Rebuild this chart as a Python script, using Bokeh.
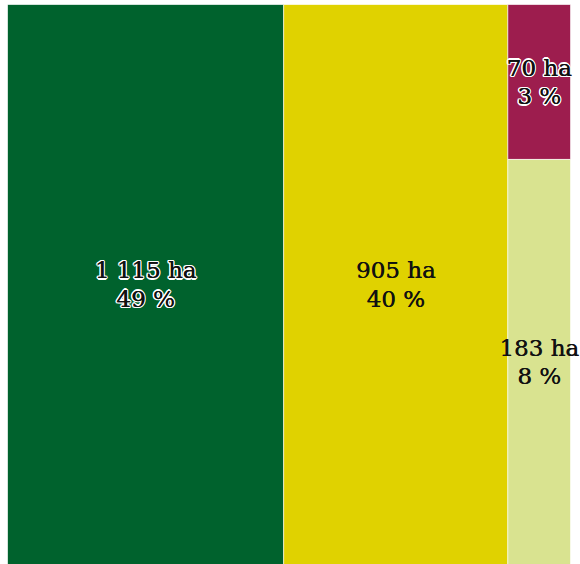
from bokeh.plotting import figure
from bokeh.models import Range1d, ColumnDataSource
from bokeh.core.properties import value
from bokeh.embed import file_html
from bokeh.resources import INLINE

categories = ["A", "B", "C", "D"]
hectares = [1115, 905, 70, 183]
area_labels = ["1 115 ha", "905 ha", "70 ha", "183 ha"]
pct_labels = ["49 %", "40 %", "3 %", "8 %"]
colors = ["#00622d", "#e0d200", "#9d1d4e", "#d9e390"]
halo = [True, False, True, False]

total = sum(hectares)

# slice layout: first two as full-height columns, last two stacked in the final column
left, right, top, bottom = [], [], [], []
x = 0.0
for v in hectares[:2]:
    left.append(x); right.append(x + v); top.append(1.0); bottom.append(0.0)
    x += v
rest = sum(hectares[2:])
ytop = 1.0
for v in hectares[2:]:
    h = v / rest
    left.append(x); right.append(total); top.append(ytop); bottom.append(ytop - h)
    ytop -= h

cx = [(l + r) / 2 for l, r in zip(left, right)]
cy = [(t + b) / 2 for t, b in zip(top, bottom)]
labels = [a + "\n" + b for a, b in zip(area_labels, pct_labels)]

src = ColumnDataSource(dict(left=left, right=right, top=top, bottom=bottom,
                            color=colors))

W, H = 580, 564
ML, MT = 7, 4
treemap_w = 563
frame_w = W - ML
p = figure(width=W, height=H, output_backend="svg", toolbar_location=None,
           x_range=Range1d(0, total * frame_w / treemap_w), y_range=Range1d(0, 1),
           min_border_left=ML, min_border_top=MT, min_border_right=0,
           min_border_bottom=0)
p.axis.visible = False
p.grid.visible = False
p.outline_line_color = None
p.background_fill_color = "white"

p.quad(left="left", right="right", top="top", bottom="bottom", source=src,
       fill_color="color", line_color="white", line_width=0.6)

font = value("DejaVu Serif")
fs = "23px"
lh = 1.1
yo = 0
offsets = [(-1.5, 0), (1.5, 0), (0, -1.5), (0, 1.5),
           (-1.1, -1.1), (1.1, -1.1), (-1.1, 1.1), (1.1, 1.1)]
for i in range(len(categories)):
    if halo[i]:
        for dx, dy in offsets:
            p.text(x=[cx[i]], y=[cy[i]], text=[labels[i]], text_align="center",
                   text_baseline="middle", text_font=font, text_font_size=fs,
                   text_color="white", text_line_height=lh,
                   x_offset=dx, y_offset=dy + yo)
    # slight double-draw for a medium weight
    for dx in (0, 0.4):
        p.text(x=[cx[i]], y=[cy[i]], text=[labels[i]], text_align="center",
               text_baseline="middle", text_font=font, text_font_size=fs,
               text_color="#111111", text_line_height=lh,
               x_offset=dx, y_offset=yo)

open("out.html", "w").write(file_html(p, INLINE))
